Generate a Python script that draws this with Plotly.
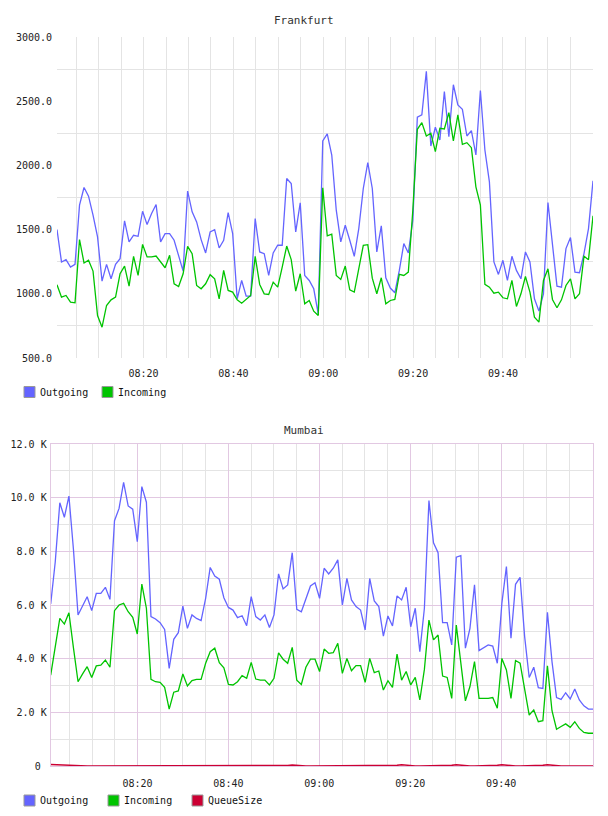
import plotly.graph_objects as go
import pandas as pd

# ---------------- data ----------------
fra_out = [1500, 1248, 1266, 1208, 1229, 1690, 1828, 1760, 1612, 1443,
           1099, 1229, 1117, 1229, 1274, 1568, 1404, 1456, 1448, 1643,
           1539, 1625, 1695, 1404, 1469, 1469, 1417, 1287, 1177, 1800,
           1638, 1560, 1422, 1318, 1482, 1500, 1357, 1417, 1633, 1469,
           961, 1104, 982, 982, 1586, 1326, 1313, 1143, 1318, 1378,
           1378, 1898, 1859, 1482, 1708, 1143, 1104, 1039, 844, 2190,
           2245, 2081, 1651, 1404, 1534, 1417, 1292, 1508, 1820, 2021,
           1820, 1326, 1529, 1125, 1045, 1008, 1182, 1391, 1318, 1573,
           2375, 2393, 2732, 2151, 2297, 2198, 2576, 2224, 2628, 2471,
           2437, 2229, 2271, 2081, 2583, 2120, 1872, 1248, 1151, 1261,
           1104, 1292, 1182, 1117, 1326, 1248, 961, 865, 1000, 1711,
           1365, 1060, 1052, 1352, 1438, 1169, 1164, 1313, 1508, 1880]

fra_in = [1070, 974, 987, 935, 930, 1422, 1240, 1261, 1177, 831,
          740, 909, 953, 974, 1156, 1216, 1060, 1292, 1143, 1385,
          1287, 1287, 1294, 1248, 1203, 1300, 1078, 1057, 1156, 1370,
          1313, 1065, 1039, 1078, 1149, 1117, 961, 1182, 1026, 1013,
          953, 927, 961, 987, 1292, 1073, 1000, 995, 1091, 1052,
          1208, 1372, 1266, 1021, 1156, 922, 948, 865, 831, 1826,
          1451, 1464, 1143, 1112, 1216, 1031, 1013, 1208, 1378, 1383,
          1122, 1000, 1125, 922, 948, 956, 1151, 1143, 1169, 1651,
          2281, 2333, 2229, 2250, 2107, 2289, 2284, 2411, 2190, 2393,
          2164, 2177, 2138, 1833, 1690, 1073, 1052, 1005, 1013, 969,
          961, 1104, 901, 1000, 1135, 1013, 818, 779, 1104, 1195,
          956, 891, 953, 1065, 1117, 961, 1000, 1292, 1266, 1607]

mum_out = [6040, 7610, 9810, 9270, 10060, 8050, 5630, 6000, 6310, 5790,
           6430, 6430, 6660, 6210, 9140, 9600, 10570, 9690, 9570, 8360,
           10410, 9830, 5570, 5480, 5340, 5090, 3640, 4720, 4970, 5960,
           5130, 5630, 5500, 5420, 6250, 7400, 7080, 6960, 6270, 5910,
           5810, 5530, 5600, 5230, 6310, 5570, 5440, 5630, 5160, 5630,
           7160, 6600, 6750, 7950, 5840, 5750, 6250, 6710, 6830, 6250,
           7370, 7160, 7370, 7680, 6000, 6990, 6190, 5940, 5810, 5070,
           6990, 6150, 5940, 4840, 5590, 5220, 6340, 6190, 6660, 5190,
           5880, 4260, 5880, 9890, 8320, 7950, 5340, 5340, 4510, 7780,
           7840, 4390, 5130, 6750, 4300, 4390, 4510, 4470, 3830, 6060,
           7430, 4760, 6770, 7030, 4820, 3300, 3680, 2920, 2890, 5730,
           3890, 2550, 2480, 2730, 2500, 2870, 2460, 2240, 2120, 2120]

mum_in = [3390, 4450, 5500, 5290, 5710, 4390, 3140, 3430, 3700, 3300,
          3730, 3760, 3950, 3680, 5790, 6000, 6060, 5750, 5540, 4920,
          6780, 5880, 3230, 3140, 3120, 2930, 2120, 2750, 2800, 3430,
          2980, 3180, 3230, 3230, 3830, 4260, 4390, 3850, 3660, 3040,
          3020, 3140, 3370, 3270, 3860, 3240, 3200, 3200, 3020, 3270,
          4220, 3980, 3830, 4420, 3200, 3040, 3680, 3980, 3980, 3520,
          4360, 4200, 4220, 4570, 3450, 4010, 3550, 3740, 3740, 3120,
          4010, 3480, 3540, 2830, 3180, 2930, 4170, 3200, 3520, 3020,
          3300, 2460, 3600, 5440, 4700, 4880, 3350, 3300, 2520, 5250,
          3850, 2430, 2960, 3890, 2520, 2520, 2520, 2550, 2150, 4010,
          3580, 2520, 3930, 3830, 2890, 1900, 2090, 1650, 1690, 3730,
          2060, 1370, 1470, 1570, 1440, 1650, 1400, 1250, 1220, 1220]

mum_queue = [60, 50, 40, 35, 25, 15, 10, 5, 0, 0,
             0, 0, 0, 0, 0, 0, 0, 0, 0, 0,
             0, 0, 0, 0, 0, 0, 0, 0, 0, 0,
             0, 0, 0, 0, 0, 0, 0, 0, 0, 0,
             0, 0, 0, 0, 0, 0, 0, 0, 0, 0,
             0, 0, 20, 40, 20, 0, 0, 0, 0, 0,
             0, 0, 0, 0, 0, 0, 0, 0, 0, 0,
             0, 0, 0, 0, 0, 0, 25, 50, 25, 0,
             0, 0, 0, 0, 0, 0, 0, 0, 25, 45,
             25, 0, 0, 0, 0, 0, 0, 0, 25, 45,
             25, 0, 0, 0, 0, 0, 0, 0, 25, 45,
             25, 0, 0, 0, 0, 0, 0, 0, 0, 0]

fra_time = pd.date_range("2024-01-01 08:00:44", "2024-01-01 10:00:03", periods=len(fra_out))
mum_time = pd.date_range("2024-01-01 08:00:55", "2024-01-01 10:00:12", periods=len(mum_out))

time_ticks = ["2024-01-01 08:20", "2024-01-01 08:40", "2024-01-01 09:00",
              "2024-01-01 09:20", "2024-01-01 09:40"]
fra_yticks = [500, 1000, 1500, 2000, 2500, 3000]
fra_ygrid = [750, 1250, 1750, 2250, 2750]
mum_yticks = [0, 2000, 4000, 6000, 8000, 10000, 12000]
mum_yticktext = ["0\u00a0", "2.0 K", "4.0 K", "6.0 K", "8.0 K", "10.0 K", "12.0 K"]
mum_ygrid = [1000, 3000, 5000, 7000, 9000, 11000]

fra_names = ["Outgoing", "Incoming"]
mum_names = ["Outgoing", "Incoming", "QueueSize"]
colors = {"Outgoing": "#6464ff", "Incoming": "#00c400", "QueueSize": "#cc0033"}

# ---------------- layout helpers ----------------
W, H = 608, 816
def fx(p):
    return p / W
def fy(p):
    return 1 - p / H

FONT = "DejaVu Sans Mono"
GRAY = "#e4e4e4"
PURPLE = "#e2c8e2"

fig = go.Figure()

for name, vals in zip(fra_names, [fra_out, fra_in]):
    fig.add_trace(go.Scatter(x=fra_time, y=vals, mode="lines", name=name,
                             line=dict(color=colors[name], width=1.3),
                             xaxis="x", yaxis="y", showlegend=False))
for name, vals in zip(mum_names, [mum_out, mum_in, mum_queue]):
    fig.add_trace(go.Scatter(x=mum_time, y=vals, mode="lines", name=name,
                             line=dict(color=colors[name], width=1.5 if name == "QueueSize" else 1.3),
                             xaxis="x2", yaxis="y2", showlegend=False))

tickfont = dict(family=FONT, size=10, color="#222")

fig.update_layout(
    width=W, height=H,
    margin=dict(l=0, r=0, t=0, b=0, pad=0, autoexpand=False),
    paper_bgcolor="white", plot_bgcolor="white",
    showlegend=False,
    xaxis=dict(domain=[fx(57), fx(593)], anchor="y", automargin=False,
               range=[fra_time[0], fra_time[-1]],
               tickmode="array", tickvals=time_ticks, tickformat="%H:%M",
               showgrid=True, gridcolor=GRAY, gridwidth=1,
               minor=dict(tickmode="linear", tick0="2024-01-01 08:00", dtick=5 * 60 * 1000,
                          showgrid=True, gridcolor=GRAY, gridwidth=1),
               ticks="", showline=False, zeroline=False,
               tickfont=tickfont, ticklabelstandoff=8),
    yaxis=dict(domain=[fy(358), fy(37)], anchor="x", automargin=False,
               range=[500, 3000],
               tickmode="array", tickvals=fra_yticks, tickformat=".1f",
               showgrid=False,
               minor=dict(tickmode="array", tickvals=fra_ygrid,
                          showgrid=True, gridcolor=GRAY, gridwidth=1),
               ticks="", showline=False, zeroline=False,
               tickfont=tickfont, ticklabelstandoff=4),
    xaxis2=dict(domain=[fx(50.7), fx(593)], anchor="y2", automargin=False,
                range=[mum_time[0], mum_time[-1]],
                tickmode="array", tickvals=time_ticks, tickformat="%H:%M",
                showgrid=True, gridcolor=PURPLE, gridwidth=1,
                minor=dict(tickmode="linear", tick0="2024-01-01 08:00", dtick=5 * 60 * 1000,
                           showgrid=True, gridcolor=GRAY, gridwidth=1),
                ticks="", showline=True, mirror=True, linecolor=PURPLE, linewidth=1,
                zeroline=False, tickfont=tickfont, ticklabelstandoff=8),
    yaxis2=dict(domain=[fy(766), fy(444)], anchor="x2", automargin=False,
                range=[0, 12000],
                tickmode="array", tickvals=mum_yticks, ticktext=mum_yticktext,
                showgrid=True, gridcolor=PURPLE, gridwidth=1,
                minor=dict(tickmode="array", tickvals=mum_ygrid,
                           showgrid=True, gridcolor=GRAY, gridwidth=1),
                ticks="", showline=True, mirror=True, linecolor=PURPLE, linewidth=1,
                zeroline=False, tickfont=tickfont, ticklabelstandoff=1),
)

# titles
annotations = [
    dict(text="Frankfurt", x=0.5, y=fy(20), xref="paper", yref="paper",
         xanchor="center", yanchor="middle", showarrow=False,
         font=dict(family=FONT, size=11, color="#333")),
    dict(text="Mumbai", x=0.5, y=fy(430), xref="paper", yref="paper",
         xanchor="center", yanchor="middle", showarrow=False,
         font=dict(family=FONT, size=11, color="#333")),
]
shapes = []

def add_legend(names, yc):
    step = 30 + 6 * max(len(n) for n in names)
    for k, n in enumerate(names):
        x0 = 24 + k * step
        shapes.append(dict(type="rect", xref="paper", yref="paper",
                           x0=fx(x0), x1=fx(x0 + 11), y0=fy(yc + 5.5), y1=fy(yc - 5.5),
                           fillcolor=colors[n], line=dict(color="#999999", width=1)))
        annotations.append(dict(text=n, x=fx(x0 + 14), y=fy(yc), xref="paper", yref="paper",
                                xanchor="left", yanchor="middle", showarrow=False,
                                font=dict(family=FONT, size=10, color="#111")))

add_legend(fra_names, 392)
add_legend(mum_names, 800.5)

fig.update_layout(annotations=annotations, shapes=shapes)
fig.write_html("out.html")
